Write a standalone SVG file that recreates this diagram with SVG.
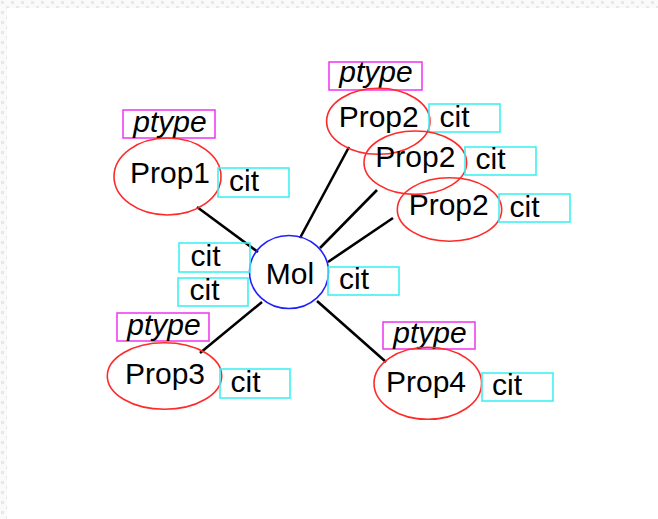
<svg xmlns="http://www.w3.org/2000/svg" width="658" height="519" viewBox="0 0 658 519">
  <defs>
    <pattern id="checker" width="10" height="10" patternUnits="userSpaceOnUse">
      <rect width="10" height="10" fill="#fafafa"/>
      <rect x="1" y="1" width="3" height="3" fill="#e8e8e8"/>
      <rect x="6" y="6" width="3" height="3" fill="#e8e8e8"/>
    </pattern>
    <style>
      text { font-family: "Liberation Sans", Arial, sans-serif; font-size: 30px; fill: #000; }
      .mid { text-anchor: middle; }
      .it { font-style: italic; }
      .prop { fill: none; stroke: #ff2a2a; stroke-width: 1.6; }
      .mol { fill: none; stroke: #2020ff; stroke-width: 1.6; }
      .pt { fill: none; stroke: #f040f0; stroke-width: 1.6; }
      .cit { fill: none; stroke: #40f0f0; stroke-width: 1.6; }
      .edge { stroke: #000; stroke-width: 2.6; fill: none; }
    </style>
  </defs>

  <!-- canvas with a faint tiled margin along the top and left -->
  <rect width="658" height="519" fill="#fff"/>
  <rect x="0" y="0" width="658" height="8" fill="url(#checker)"/>
  <rect x="0" y="0" width="7" height="519" fill="url(#checker)"/>

  <g id="connectors">
    <line class="edge" x1="197" y1="207" x2="258" y2="252"/>
    <line class="edge" x1="349" y1="147" x2="300" y2="238"/>
    <line class="edge" x1="377" y1="190" x2="320" y2="248"/>
    <line class="edge" x1="393" y1="218" x2="328" y2="262"/>
    <line class="edge" x1="200" y1="353" x2="262" y2="302"/>
    <line class="edge" x1="317" y1="301" x2="386" y2="362"/>
  </g>

  <g id="mol">
    <ellipse class="mol" cx="289" cy="272" rx="39.5" ry="36.5"/>
    <text class="mid" x="290" y="284">Mol</text>
    <rect class="cit" x="328" y="267" width="71" height="28"/>
    <text x="339" y="289">cit</text>
    <rect class="cit" x="179" y="243" width="71" height="29"/>
    <text x="190.5" y="266">cit</text>
    <rect class="cit" x="178" y="278" width="70" height="28"/>
    <text x="189.5" y="299.5">cit</text>
  </g>

  <g id="prop1">
    <rect class="pt" x="123" y="110" width="92" height="28"/>
    <text class="mid it" x="170" y="132">ptype</text>
    <ellipse class="prop" cx="167.5" cy="176.5" rx="53.5" ry="38.5"/>
    <text class="mid" x="170" y="183">Prop1</text>
    <rect class="cit" x="218" y="168" width="71" height="29"/>
    <text x="229" y="191">cit</text>
  </g>

  <g id="prop2a">
    <rect class="pt" x="329" y="62" width="93" height="28"/>
    <text class="mid it" x="376" y="82">ptype</text>
    <ellipse class="prop" cx="378.3" cy="121.3" rx="51.7" ry="33"/>
    <text class="mid" x="378.7" y="127">Prop2</text>
    <rect class="cit" x="429" y="104" width="71" height="28"/>
    <text x="439.5" y="127">cit</text>
  </g>

  <g id="prop2b">
    <ellipse class="prop" cx="415.3" cy="162.7" rx="51.3" ry="31.7"/>
    <text class="mid" x="415.3" y="167">Prop2</text>
    <rect class="cit" x="465" y="147" width="71" height="28"/>
    <text x="475.5" y="168.5">cit</text>
  </g>

  <g id="prop2c">
    <ellipse class="prop" cx="449.5" cy="209.5" rx="52.2" ry="31.7"/>
    <text class="mid" x="448.7" y="214.5">Prop2</text>
    <rect class="cit" x="499" y="194" width="71" height="28"/>
    <text x="509.5" y="217">cit</text>
  </g>

  <g id="prop3">
    <rect class="pt" x="117" y="313" width="92" height="28"/>
    <text class="mid it" x="164" y="335">ptype</text>
    <ellipse class="prop" cx="164.5" cy="376" rx="57.2" ry="33.3"/>
    <text class="mid" x="165" y="383.5">Prop3</text>
    <rect class="cit" x="220" y="369" width="70" height="29"/>
    <text x="230.5" y="392">cit</text>
  </g>

  <g id="prop4">
    <rect class="pt" x="383" y="322" width="92" height="27"/>
    <text class="mid it" x="430" y="342.5">ptype</text>
    <ellipse class="prop" cx="427.8" cy="383.3" rx="53.8" ry="36"/>
    <text class="mid" x="426" y="392">Prop4</text>
    <rect class="cit" x="482" y="373" width="71" height="28"/>
    <text x="492" y="395">cit</text>
  </g>
</svg>
